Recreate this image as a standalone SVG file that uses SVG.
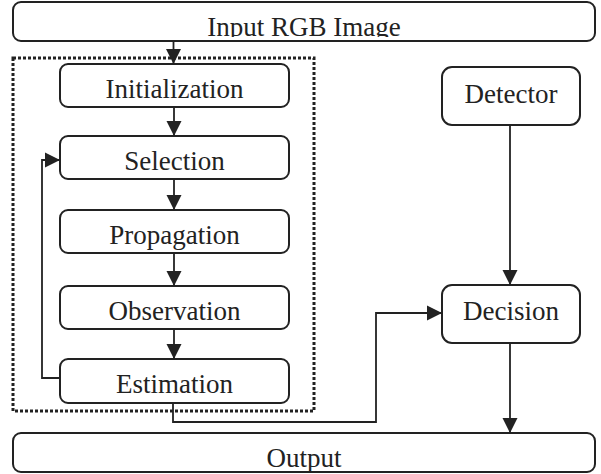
<svg xmlns="http://www.w3.org/2000/svg" width="601" height="474" viewBox="0 0 601 474">
<style>
.box{fill:#fff;stroke:#222;stroke-width:2}
.lbl{font-family:"Liberation Serif","Times New Roman",serif;font-size:27px;fill:#222;text-anchor:middle}
.con{fill:none;stroke:#222;stroke-width:1.8}
.dot{fill:none;stroke:#222;stroke-width:3;stroke-dasharray:3 2}
</style>
<defs>
<marker id="ah" markerUnits="userSpaceOnUse" markerWidth="16" markerHeight="16" viewBox="0 0 16 16" refX="15" refY="8" orient="auto">
<path d="M0,0.5 L15,8 L0,15.5 Z" fill="#222"/>
</marker>
<clipPath id="clipIn"><rect x="0" y="0" width="601" height="37"/></clipPath>
</defs>
<rect class="dot" x="13" y="58" width="301" height="353"/>
<g id="input">
<rect class="box" x="13" y="2" width="582" height="39" rx="8"/>
<text class="lbl" x="304" y="36" clip-path="url(#clipIn)">Input RGB Image</text>
</g>
<g id="initialization">
<rect class="box" x="60" y="64" width="229" height="43" rx="8"/>
<text class="lbl" x="174.5" y="97.5">Initialization</text>
</g>
<g id="selection">
<rect class="box" x="60" y="136" width="229" height="43" rx="8"/>
<text class="lbl" x="174.5" y="169.5">Selection</text>
</g>
<g id="propagation">
<rect class="box" x="60" y="210" width="229" height="43" rx="8"/>
<text class="lbl" x="174.5" y="244">Propagation</text>
</g>
<g id="observation">
<rect class="box" x="60" y="286" width="229" height="43" rx="8"/>
<text class="lbl" x="174.5" y="320">Observation</text>
</g>
<g id="estimation">
<rect class="box" x="60" y="359" width="229" height="44" rx="8"/>
<text class="lbl" x="174.5" y="393">Estimation</text>
</g>
<g id="detector">
<rect class="box" x="442" y="67" width="138" height="58" rx="10"/>
<text class="lbl" x="511" y="103">Detector</text>
</g>
<g id="decision">
<rect class="box" x="442" y="285" width="138" height="58" rx="10"/>
<text class="lbl" x="511" y="320">Decision</text>
</g>
<g id="output">
<rect class="box" x="13" y="433" width="582" height="39" rx="8"/>
<text class="lbl" x="304" y="467">Output</text>
</g>
<g id="connectors">
<path class="con" d="M173.5,41 V64" marker-end="url(#ah)"/>
<path class="con" d="M174,107 V136" marker-end="url(#ah)"/>
<path class="con" d="M174,179 V210" marker-end="url(#ah)"/>
<path class="con" d="M174,253 V286" marker-end="url(#ah)"/>
<path class="con" d="M174,329 V359" marker-end="url(#ah)"/>
<path class="con" d="M60,378 H42 V160 H60" marker-end="url(#ah)"/>
<path class="con" d="M173,403 V422 H376 V313 H442" marker-end="url(#ah)"/>
<path class="con" d="M510,125 V285" marker-end="url(#ah)"/>
<path class="con" d="M510,343 V433" marker-end="url(#ah)"/>
</g>
</svg>
